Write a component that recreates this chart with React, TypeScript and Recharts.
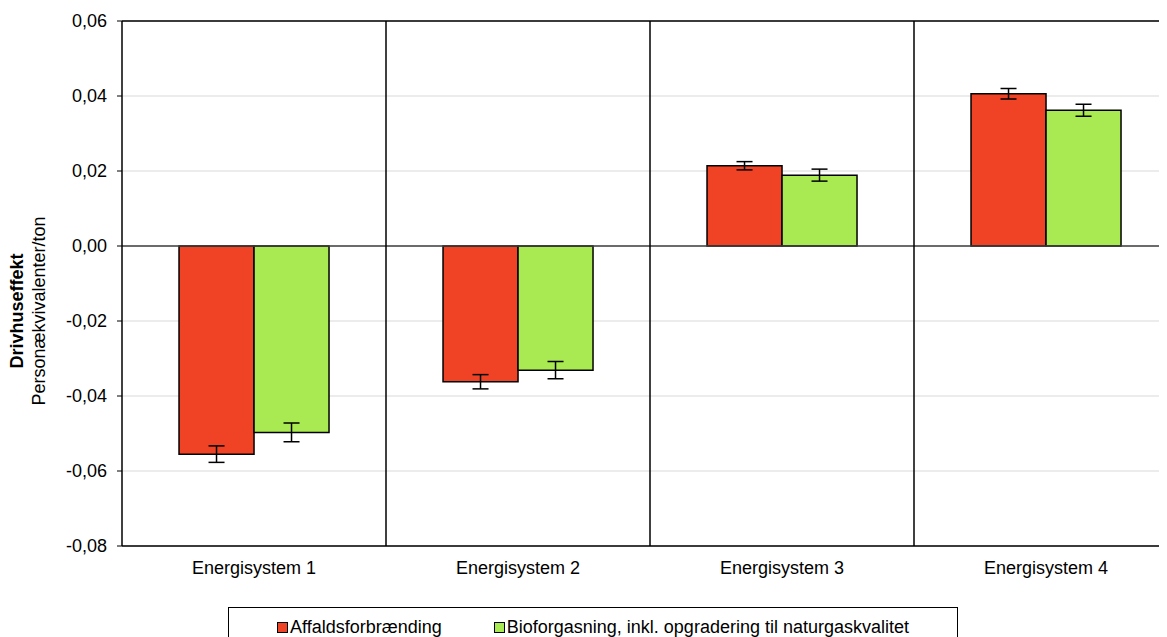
import { BarChart, Bar, XAxis, YAxis, CartesianGrid, ReferenceLine, ErrorBar, Legend } from "recharts";

const categories = ["Energisystem 1", "Energisystem 2", "Energisystem 3", "Energisystem 4"];
const affald = [-0.0555, -0.0362, 0.0214, 0.0406];
const affaldErr = [0.0022, 0.0019, 0.0011, 0.0014];
const biogas = [-0.0497, -0.0331, 0.0189, 0.0362];
const biogasErr = [0.0025, 0.0023, 0.0016, 0.0016];
const yTicks = [-0.08, -0.06, -0.04, -0.02, 0, 0.02, 0.04, 0.06];

const RED = "#F04225";
const GREEN = "#A9EA52";
const FONT = "Arial, 'Liberation Sans', sans-serif";

const data = categories.map((name, i) => ({
  name,
  affald: affald[i],
  affaldErr: affaldErr[i],
  biogas: biogas[i],
  biogasErr: biogasErr[i],
}));

const fmt = (v: number) => v.toFixed(2).replace(".", ",");

function YLabel() {
  return (
    <g fontFamily={FONT} fontSize={18} fill="#000">
      <text transform="translate(15, 303) rotate(-90)" textAnchor="middle" fontWeight="bold">
        Drivhuseffekt
      </text>
      <text transform="translate(37, 303) rotate(-90)" textAnchor="middle">
        Personækvivalenter/ton
      </text>
    </g>
  );
}

function LegendBox() {
  const items = [
    { label: "Affaldsforbrænding", color: RED },
    { label: "Bioforgasning, inkl. opgradering til naturgaskvalitet", color: GREEN },
  ];
  return (
    <div style={{ height: 46, paddingTop: 16, boxSizing: "border-box" }}>
      <div
        style={{
          border: "1px solid #000",
          height: 40,
          display: "flex",
          justifyContent: "flex-start",
          alignItems: "flex-start",
          paddingTop: 9,
          paddingLeft: 48,
          boxSizing: "border-box",
          fontFamily: FONT,
          fontSize: 18,
          color: "#000",
          gap: 52,
          whiteSpace: "nowrap",
        }}
      >
        {items.map((it) => (
          <div key={it.label} style={{ display: "flex", alignItems: "center" }}>
            <span
              style={{
                display: "inline-block",
                width: 9,
                height: 9,
                background: it.color,
                border: "1px solid #000",
                marginRight: 2,
              }}
            />
            <span>{it.label}</span>
          </div>
        ))}
      </div>
    </div>
  );
}

export default function App() {
  return (
    <div style={{ width: 1159, height: 629, overflow: "hidden", position: "relative" }}>
      <BarChart
        width={1180}
        height={629}
        data={data}
        margin={{ top: 13, right: 10, left: 0, bottom: 0 }}
        barCategoryGap="21.6%"
        barGap={0}
      >
        <CartesianGrid vertical={false} stroke="#d9d9d9" />
        <XAxis
          dataKey="name"
          height={45}
          tickLine={false}
          axisLine={{ stroke: "#000", strokeWidth: 1.5 }}
          tick={{ fontSize: 18, fill: "#000", fontFamily: FONT }}
          tickMargin={9}
        />
        <YAxis
          width={114}
          domain={[-0.08, 0.06]}
          ticks={yTicks}
          tickFormatter={fmt}
          tickSize={5}
          tickMargin={10}
          axisLine={{ stroke: "#000", strokeWidth: 1.5 }}
          tickLine={{ stroke: "#000" }}
          tick={{ fontSize: 18, fill: "#000", fontFamily: FONT }}
          label={<YLabel />}
        />
        <ReferenceLine y={0} stroke="#404040" strokeWidth={1.5} />
        <ReferenceLine y={0.06} stroke="#000" strokeWidth={1.5} />
        {categories.slice(1).map((c) => (
          <ReferenceLine key={c} x={c} position="start" stroke="#000" strokeWidth={1.5} />
        ))}
        <Legend verticalAlign="bottom" content={<LegendBox />} wrapperStyle={{ left: 220, width: 730 }} />
        <Bar
          dataKey="affald"
          name="Affaldsforbrænding"
          fill={RED}
          stroke="#000"
          strokeWidth={1.5}
          isAnimationActive={false}
        >
          <ErrorBar dataKey="affaldErr" width={8} stroke="#000" strokeWidth={1.5} isAnimationActive={false} />
        </Bar>
        <Bar
          dataKey="biogas"
          name="Bioforgasning, inkl. opgradering til naturgaskvalitet"
          fill={GREEN}
          stroke="#000"
          strokeWidth={1.5}
          isAnimationActive={false}
        >
          <ErrorBar dataKey="biogasErr" width={8} stroke="#000" strokeWidth={1.5} isAnimationActive={false} />
        </Bar>
      </BarChart>
    </div>
  );
}
